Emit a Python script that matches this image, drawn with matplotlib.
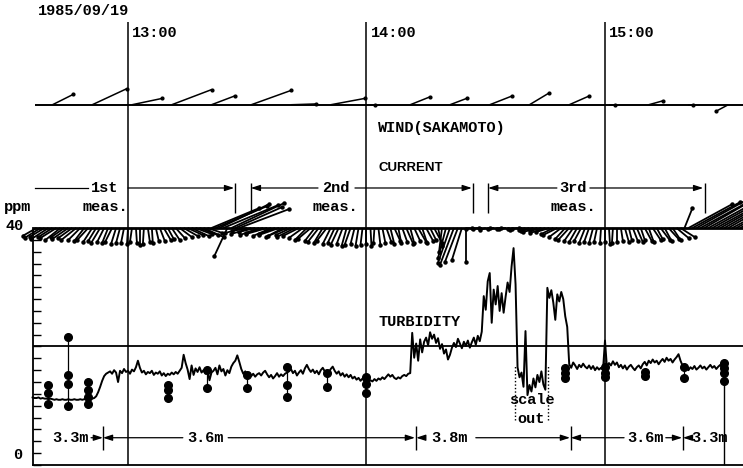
import numpy as np
import matplotlib
matplotlib.use("Agg")
import matplotlib.pyplot as plt
from matplotlib.collections import LineCollection

# time in minutes after 12:00 (1985/09/19), turbidity in ppm
hour_times = [60, 120, 180]
hour_labels = ["13:00", "14:00", "15:00"]

# turbidity trace, 0.5 min sampling, pieces = (start time, values)
turb_pieces = [
    (36.0, [11.4, 11.3, 11.3, 11.4, 11.2, 11.3, 11.2, 11.2, 11.1, 11.2, 11.1, 11.0, 11.1, 11.0, 11.0, 11.1,
            11.0, 11.0, 11.1, 11.0, 11.0, 11.1, 11.0, 11.0, 11.1, 11.0, 11.1, 11.1, 11.2, 11.1, 11.2, 11.3]),
    (52.0, [11.6, 12.3, 13.2, 14.2, 15.0, 15.4, 15.6]),
    (55.5, [15.8, 15.4, 16.0, 15.6, 14.0, 15.9, 15.5, 16.2, 15.7, 15.9, 15.4, 16.1, 15.8, 16.5, 17.6, 16.4,
            15.6, 15.9, 15.3, 15.7, 15.5, 15.9, 15.2, 15.6, 15.4, 15.8, 15.1, 15.5, 15.0, 15.4, 15.2, 15.6,
            15.3, 15.7, 15.4, 15.9, 16.4, 18.6, 17.2, 16.1, 14.5, 16.8, 15.2, 16.3, 15.7, 16.5, 15.6, 16.0,
            15.4, 15.9]),
    (80.5, [14.3, 15.6, 15.9, 16.4, 15.3, 16.8, 15.8, 16.2, 15.1, 16.0, 15.5, 16.6, 17.2, 17.6, 18.5, 17.4,
            16.2, 15.4, 15.8, 15.2, 15.6, 15.0, 15.4, 14.9, 15.3, 15.5, 15.1, 15.6, 15.9, 15.3, 14.8, 15.2,
            14.6, 15.0, 15.5, 14.9, 15.3, 15.0, 15.4, 15.6]),
    (100.5, [15.8, 16.2, 15.5, 15.9, 15.1, 15.6, 16.0, 15.4, 16.3, 16.9, 16.2, 15.7, 16.1, 15.5, 15.9, 15.3,
             16.0, 16.4, 15.8, 15.2, 15.6, 16.2, 16.6, 15.9, 15.4, 15.8, 15.1, 15.5, 14.9, 15.3, 14.8, 15.2,
             14.6, 14.9, 14.4, 14.7, 14.2, 14.6, 14.1, 14.4]),
    (120.5, [14.0, 14.3, 14.1, 14.5, 14.2, 14.6, 14.4, 14.8, 14.5, 14.9, 15.3, 14.9, 15.2, 14.7, 14.5, 14.8,
             14.6, 15.0, 15.2, 15.0, 15.4, 15.5]),
    (131.5, [22.3, 18.1, 20.5, 17.6, 21.2, 19.0, 20.8, 21.5, 20.2, 22.4, 21.3, 22.0, 20.6, 21.4, 19.6, 20.4,
             18.8, 19.5, 17.8, 18.6, 19.8, 20.6, 19.9, 21.3, 20.5, 19.7, 20.8, 20.1, 21.0, 19.8, 20.7, 21.5,
             20.3, 21.8, 20.9, 22.5]),
    (149.5, [28.5, 26.2, 31.0, 32.4, 24.0, 29.6, 27.1, 30.2, 26.0, 29.0, 25.7, 28.4, 30.8, 29.2, 33.5, 36.6,
             30.5]),
    (158.0, [16.5, 14.8, 15.6, 13.2, 22.6, 11.8, 13.5, 12.4, 14.6, 13.1, 15.2, 14.0, 15.8, 13.6, 12.7]),
    (165.5, [29.9, 28.2, 29.5, 27.4, 24.5, 28.8, 27.6, 29.2, 28.0, 25.1, 23.3]),
    (171.0, [17.0, 16.4, 17.3, 16.8, 16.2, 16.9, 16.5, 17.1, 16.6, 16.3, 16.8, 16.2, 16.7, 16.0, 16.5, 16.1,
             16.4, 16.0, 21.0, 16.3, 17.2, 16.8, 17.5, 16.9, 17.3, 16.5, 16.9, 16.3, 16.8, 16.1, 16.6, 16.9,
             16.4, 16.0, 16.5, 16.8, 16.3, 17.0, 17.4, 16.8, 17.6, 17.2, 17.8, 17.3, 17.6, 17.0, 17.5, 17.9,
             17.4, 18.1, 17.6, 17.9, 17.3, 17.8, 18.2, 18.7, 17.6, 16.8, 16.2, 16.6, 16.0, 16.5, 16.2, 16.7,
             16.1, 16.4, 16.8, 16.3, 16.6, 16.1, 16.5, 16.9, 16.4, 16.7, 16.2, 16.6, 16.9, 16.3, 16.7, 16.5]),
]
turb_step = 0.5

# water samples (vertical profiles)
profile_times = [40, 45, 50, 70, 80, 90, 100, 110, 120, 170, 180, 190, 200, 210]
profile_values = [
    [13.5, 12.1, 10.3],
    [21.6, 15.2, 13.7, 10.0],
    [14.0, 12.7, 11.5, 10.3],
    [13.5, 12.7, 11.3],
    [16.0, 13.0],
    [15.2, 13.0],
    [16.6, 13.5, 11.4],
    [15.5, 13.1],
    [14.9, 13.7, 12.1],
    [16.3, 15.5, 14.6],
    [16.6, 15.5, 14.8],
    [15.7, 15.0],
    [16.6, 14.6],
    [17.2, 16.3, 15.5, 14.1],
]

# wind at Sakamoto, every 10 min (m/s)
wind_times = [41, 51, 61, 71, 81, 91, 101, 111, 121, 131, 141, 151, 161, 171, 181, 191, 201, 211]
wind_e = [2.6, 4.3, 3.8, 5.0, 2.9, 5.0, 3.1, 4.3, 0.6, 2.5, 2.1, 2.8, 2.5, 2.5, 0.8, 1.8, 0.6, -1.5]
wind_n = [1.3, 2.0, 0.8, 1.9, 1.1, 1.8, 0.1, 0.8, 0.0, 1.0, 0.8, 1.1, 1.5, 1.1, 0.0, 0.5, 0.0, -0.8]

# current, every minute from 12:37 (cm/s)
current_start = 37
current_e = [-14, -16, -15, -17, -14, -16, -15, -13, -16, -14, -15,
             -12, -10, -11, -9, -8, -9, -7, -6, -7, -5, -4,
             -3, -1, -2, 1, 0, -1, 2, 1, 3,
             5, 7, 6, 8, 9,
             12, 14, 15, 17, 16, 18, 20, 15,
             48, 52, 50, 55, -13, 53, 47, 50,
             -18, -15, -20, -16, -19, -17, -21, -18, -16, -20, -17, -19, -15, -18, -16,
             -14, -12, -13, -10, -11, -9, -10, -8, -7, -8, -6, -5, -6, -4, -3,
             -2, 0, 1, -1, 2,
             3, 5, 4, 6, 3, 5, 7, 4, 6, 8, 5, 7, 6,
             8, 4, -3, -8, -12, -14, -13, -10, 0,
             -4, -2, -5, -3, -6, -2, -4, -1, -3, -5, -2, -4, -6, -3, -5,
             -10, -12, -14, -11, -15, -13, -12,
             -14, -12, -10, -11, -9, -8, -7, -6, -5, -4, -3,
             -1, 0, 1, -1, 0,
             2, 4, 3, 5, 6, 4, 7, 5, 8, 6, 9, 7, 10, 8, 12, 14,
             8,
             44, 48, 50, 46, 52, 49, 47, 53, 50, 48, 51, 49, 52, 50]
current_n = [-8, -10, -9, -11, -9, -10, -12, -9, -11, -10, -12,
             -12, -13, -12, -14, -13, -15, -14, -15, -14, -16, -15,
             -15, -16, -14, -15, -17, -16, -14, -15, -13,
             -13, -12, -11, -12, -10,
             -9, -8, -7, -8, -6, -7, -9, -5,
             20, 22, 24, 23, -28, 25, 21, 19,
             -5, -3, -6, -4, -7, -5, -6, -8, -6, -7, -9, -8, -7, -9, -8,
             -10, -12, -11, -13, -14, -15, -13, -16, -15, -17, -16, -18, -17, -16, -18,
             -17, -16, -18, -15, -17,
             -15, -14, -16, -13, -15, -14, -16, -15, -13, -14, -15, -13, -12,
             -15, -18, -24, -30, -35, -37, -34, -32, -34,
             -1, 0, -1, 0, -2, -1, 0, -1, -1, 0, -1, -2, -1, 0, -1,
             -2, -3, -4, -3, -5, -4, -6,
             -7, -9, -11, -12, -13, -14, -13, -15, -14, -15, -14,
             -15, -14, -16, -15, -14,
             -13, -14, -12, -13, -14, -12, -13, -14, -12, -11, -12, -13, -11, -12, -10, -9,
             20,
             24, 26, 28, 25, 30, 27, 26, 29, 28, 27, 29, 26, 28, 27]

# ---------------------------------------------------------------------------
W, H = 743, 468
fig = plt.figure(figsize=(W / 100, H / 100), dpi=100)
ax = fig.add_axes([0, 0, 1, 1])
x0, x1 = 27.8, 214.72
y0, y1 = -0.51, 78.48
ax.set_xlim(x0, x1)
ax.set_ylim(y0, y1)
kx = (x1 - x0) / W   # minutes per pixel
ky = (y1 - y0) / H   # ppm per pixel

mono = "Liberation Mono"
tk = dict(family=mono, fontweight="bold", fontsize=11, color="k")

t_left = 36.1
wind_base = 60.8
cur_base = 40.0
t_label = 122.9

# axes frame
for s in ["top", "right"]:
    ax.spines[s].set_visible(False)
ax.spines["left"].set_position(("data", t_left))
ax.spines["left"].set_bounds(0, 40)
ax.spines["bottom"].set_position(("data", 0))
ax.spines["bottom"].set_bounds(t_left, x1)
for s in ["left", "bottom"]:
    ax.spines[s].set_linewidth(1.3)
ax.set_yticks(np.arange(0, 41, 2))
ax.set_yticklabels([])
ax.set_xticks([])
ax.tick_params(axis="y", direction="in", length=6, width=1.0)

# hour lines
ax.vlines(hour_times, 0, 74.8, color="k", lw=1.1)
for t, lab in zip(hour_times, hour_labels):
    ax.text(t + 1.0, 72.9, lab, ha="left", va="center", **tk)
ax.text(37.4, 76.6, "1985/09/19", ha="left", va="center", **tk)

# reference lines
ax.hlines(20, t_left, x1, color="k", lw=1.3)
ax.hlines(cur_base, t_left, x1, color="k", lw=2.0)
ax.hlines(wind_base, t_left + 0.5, x1, color="k", lw=1.4)

# wind sticks
wscale = 8.0
segs = []
ends = []
for t, e, n in zip(wind_times, wind_e, wind_n):
    xe, ye = t + e * wscale * kx, wind_base + n * wscale * ky
    segs.append([(t, wind_base), (xe, ye)])
    ends.append((xe, ye))
ax.add_collection(LineCollection(segs, colors="k", linewidths=1.1))
ends = np.array(ends)
ax.plot(ends[:, 0], ends[:, 1], "o", color="k", ms=2.0)
ax.text(t_label, 56.9, "WIND(SAKAMOTO)", ha="left", va="center", **tk)

# current sticks
cscale = 1.0
ct = current_start + np.arange(len(current_e))
ce = np.array(current_e) * cscale * kx
cn = np.array(current_n) * cscale * ky
segs = [[(t, cur_base), (t + e, cur_base + n)] for t, e, n in zip(ct, ce, cn)]
ax.add_collection(LineCollection(segs, colors="k", linewidths=1.3))
ax.plot(ct + ce, cur_base + cn, "o", color="k", ms=2.2)
ax.text(t_label, 50.1, "CURRENT", ha="left", va="center", family="Liberation Sans",
        fontweight="bold", fontsize=9.5)

# measurement periods
def arrow(ta, tb, y):
    ax.annotate("", xy=(tb, y), xytext=(ta, y),
                arrowprops=dict(arrowstyle="-|>,head_length=0.55,head_width=0.18",
                                lw=0.9, color="k", shrinkA=0, shrinkB=0))

def tick(t, y, h):
    ax.vlines(t, y - h, y + h, color="k", lw=1.0)

my = 46.75
ax.plot([36.6, 49.9], [my, my], color="k", lw=0.9)
arrow(60.0, 86.7, my)
tick(86.9, 45.1, 2.5)
ax.text(54.2, my, "1st", ha="center", va="center", **tk)
tick(90.9, 45.1, 2.5)
arrow(107.8, 90.9, my)
ax.text(112.4, my, "2nd", ha="center", va="center", **tk)
arrow(117.1, 146.5, my)
tick(146.8, 45.1, 2.5)
tick(150.6, 45.1, 2.5)
arrow(167.9, 150.6, my)
ax.text(172.0, my, "3rd", ha="center", va="center", **tk)
arrow(176.2, 204.7, my)
tick(205.2, 45.1, 2.5)
for t in [54.2, 112.2, 172.0]:
    ax.text(t, 43.5, "meas.", ha="center", va="center", **tk)

# turbidity
tt = np.concatenate([start + turb_step * np.arange(len(v)) for start, v in turb_pieces])
tv = np.concatenate([np.array(v) for _, v in turb_pieces])
ax.plot(tt, tv, color="k", lw=1.4)
ax.text(t_label, 24.1, "TURBIDITY", ha="left", va="center", **tk)

# sampling profiles
for t, vals in zip(profile_times, profile_values):
    ax.plot([t] * len(vals), vals, "-o", color="k", lw=0.9, ms=5.5)
ax.vlines(profile_times[-1], 0, min(profile_values[-1]), color="k", lw=1.0)

# scale out marks
ax.vlines([157.4, 165.7], 7.6, 16.7, color="k", lw=1.0, linestyles=(0, (1, 1.5)))
ax.text(161.5, 11.0, "scale", ha="center", va="center", **tk)
ax.text(161.5, 7.8, "out", ha="center", va="center", **tk)

# depth of the sensor
dy = 4.6
ax.text(45.5, dy, "3.3m", ha="center", va="center", **tk)
arrow(50.7, 53.7, dy)
tick(53.7, dy, 2.0)
arrow(73.8, 53.7, dy)
ax.text(79.6, dy, "3.6m", ha="center", va="center", **tk)
arrow(85.2, 132.2, dy)
tick(132.5, dy, 2.0)
arrow(134.8, 132.5, dy)
ax.text(140.8, dy, "3.8m", ha="center", va="center", **tk)
arrow(147.5, 171.2, dy)
tick(171.4, dy, 2.0)
arrow(184.8, 171.4, dy)
ax.text(190.3, dy, "3.6m", ha="center", va="center", **tk)
arrow(195.3, 199.4, dy)
tick(199.6, dy, 2.0)
arrow(201.4, 199.6, dy)
ax.text(206.4, dy, "3.3m", ha="center", va="center", **tk)

# y axis labels
ax.text(28.8, 43.6, "ppm", ha="left", va="center", **tk)
ax.text(29.3, 40.3, "40", ha="left", va="center", **tk)
ax.text(31.2, 1.7, "0", ha="left", va="center", **tk)

fig.savefig("out.png", dpi=100)
